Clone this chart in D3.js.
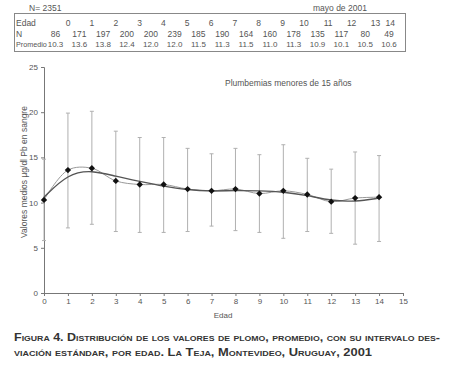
<!DOCTYPE html>
<html>
<head>
<meta charset="utf-8">
<script src="https://cdn.jsdelivr.net/npm/d3@7"></script>
<style>
  body { margin: 0; background: #fff; }
  svg { font-family: "Liberation Sans", Arial, sans-serif; }
</style>
</head>
<body>
<div id="root"></div>
<script>
// DATA
const edad = [0, 1, 2, 3, 4, 5, 6, 7, 8, 9, 10, 11, 12, 13, 14];
const nCasos = [86, 171, 197, 200, 200, 239, 185, 190, 164, 160, 178, 135, 117, 80, 49];
const promedio = [10.3, 13.6, 13.8, 12.4, 12.0, 12.0, 11.5, 11.3, 11.5, 11.0, 11.3, 10.9, 10.1, 10.5, 10.6];
const limiteSup = [14.8, 19.9, 20.1, 17.9, 17.2, 17.2, 16.0, 15.4, 16.0, 15.3, 16.4, 14.9, 13.7, 15.6, 15.2];
const limiteInf = [5.8, 7.2, 7.6, 6.8, 6.7, 6.7, 6.8, 7.4, 6.9, 6.7, 6.05, 6.8, 6.6, 5.4, 5.7];
// smooth trend curve
const tendencia = [10.6, 13.2, 13.6, 12.9, 12.35, 11.8, 11.4, 11.25, 11.35, 11.3, 11.2, 10.8, 10.2, 10.1, 10.5];
const xTicks = d3.range(0, 16);
const yTicks = [0, 5, 10, 15, 20, 25];

const width = 451, height = 376;
const svg = d3.select('#root').append('svg')
  .attr('width', width)
  .attr('height', height);

const textGray = '#555';
const fs = '8.5px';

// header
svg.append('text').attr('x', 29).attr('y', 11)
  .style('font-size', fs).style('fill', textGray).text('N= 2351');
svg.append('text').attr('x', 313).attr('y', 11)
  .style('font-size', fs).style('fill', textGray).text('mayo de 2001');

// table
svg.append('rect')
  .attr('x', 14.5).attr('y', 13.5)
  .attr('width', 391).attr('height', 38)
  .attr('fill', 'none').attr('stroke', '#888').attr('stroke-width', 1);

const col = d3.scaleLinear().domain([0, 14]).range([55.5, 389]);
const rowY = [25.5, 36.5, 47];
const rowNames = ['Edad', 'N', 'Promedio'];
rowNames.forEach((r, i) => {
  svg.append('text').attr('x', 16).attr('y', rowY[i])
    .style('font-size', r === 'Promedio' ? '7.2px' : fs)
    .style('fill', textGray).text(r);
});
svg.selectAll('.t-edad').data(edad).enter().append('text')
  .attr('x', (d, i) => i === 14 ? col(i) + 6 : col(i) + 15)
  .attr('y', rowY[0])
  .attr('text-anchor', 'end')
  .style('font-size', fs).style('fill', textGray)
  .text(d => d);
svg.selectAll('.t-n').data(nCasos).enter().append('text')
  .attr('x', (d, i) => col(i))
  .attr('y', rowY[1])
  .attr('text-anchor', 'middle')
  .style('font-size', fs).style('fill', textGray)
  .text(d => d);
svg.selectAll('.t-p').data(promedio).enter().append('text')
  .attr('x', (d, i) => col(i))
  .attr('y', rowY[2])
  .attr('text-anchor', 'middle')
  .style('font-size', '8px').style('fill', textGray)
  .text(d => d.toFixed(1));

// chart
const x = d3.scaleLinear().domain([0, 15]).range([44, 403]);
const y = d3.scaleLinear().domain([0, 25]).range([293, 67]);

const xAxis = svg.append('g')
  .attr('transform', `translate(0, ${y(0)})`)
  .call(d3.axisBottom(x).tickValues(xTicks).tickSize(3).tickPadding(2));
const yAxis = svg.append('g')
  .attr('transform', `translate(${x(0)}, 0)`)
  .call(d3.axisLeft(y).tickValues(yTicks).tickSize(3).tickPadding(3));
[xAxis, yAxis].forEach(g => {
  g.select('.domain').attr('stroke', '#777');
  g.selectAll('.tick line').attr('stroke', '#777');
  g.selectAll('.tick text').style('font-size', '8px').style('fill', textGray)
    .style('font-family', '"Liberation Sans", Arial, sans-serif');
});

// error bars
const eb = svg.append('g').attr('stroke', '#b0b0b0').attr('stroke-width', 1);
edad.forEach((e, i) => {
  eb.append('line')
    .attr('x1', x(e)).attr('x2', x(e))
    .attr('y1', y(limiteInf[i])).attr('y2', y(limiteSup[i]));
  [limiteInf[i], limiteSup[i]].forEach(v => {
    eb.append('line')
      .attr('x1', x(e) - 2).attr('x2', x(e) + 2)
      .attr('y1', y(v)).attr('y2', y(v));
  });
});

// smooth line through the means
svg.append('path')
  .datum(edad.map((e, i) => [e, promedio[i]]))
  .attr('fill', 'none')
  .attr('stroke', '#999')
  .attr('stroke-width', 1)
  .attr('d', d3.line().x(d => x(d[0])).y(d => y(d[1])).curve(d3.curveCatmullRom));

// trend curve
svg.append('path')
  .datum(edad.map((e, i) => [e, tendencia[i]]))
  .attr('fill', 'none')
  .attr('stroke', '#555')
  .attr('stroke-width', 1.4)
  .attr('d', d3.line().x(d => x(d[0])).y(d => y(d[1])).curve(d3.curveBasis));

// markers (square turned 45 degrees)
svg.selectAll('.marker').data(promedio).enter().append('path')
  .attr('transform', (d, i) => `translate(${x(edad[i])}, ${y(d)}) rotate(45)`)
  .attr('d', d3.symbol().type(d3.symbolSquare).size(20))
  .attr('fill', '#111');

// labels
svg.append('text').attr('x', 225).attr('y', 86)
  .style('font-size', fs).style('fill', textGray)
  .text('Plumbemias menores de 15 años');
svg.append('text')
  .attr('transform', `translate(27, 172) rotate(-90)`)
  .attr('text-anchor', 'middle')
  .style('font-size', fs).style('fill', textGray)
  .text('Valores medios µg/dl Pb en sangre');
svg.append('text').attr('x', 223).attr('y', 318)
  .attr('text-anchor', 'middle')
  .style('font-size', '8px').style('fill', textGray)
  .text('Edad');

// caption
const cap = svg.append('g')
  .style('font-size', '11.5px').style('font-weight', 'bold')
  .style('font-variant', 'small-caps').style('fill', '#333');
cap.append('text').attr('x', 14).attr('y', 341)
  .attr('textLength', 426).attr('lengthAdjust', 'spacingAndGlyphs')
  .text('Figura 4. Distribución de los valores de plomo, promedio, con su intervalo des-');
cap.append('text').attr('x', 14).attr('y', 356)
  .attr('textLength', 358).attr('lengthAdjust', 'spacingAndGlyphs')
  .text('viación estándar, por edad. La Teja, Montevideo, Uruguay, 2001');
</script>
</body>
</html>
